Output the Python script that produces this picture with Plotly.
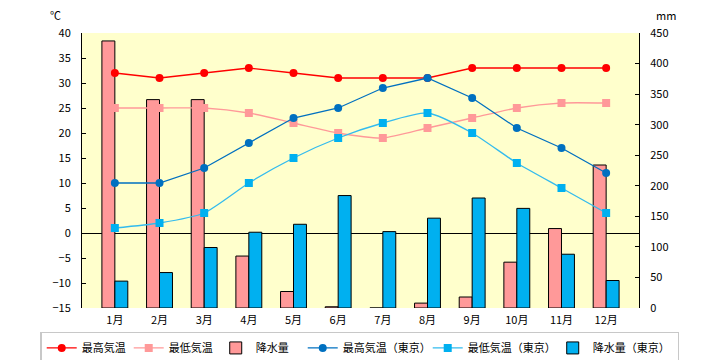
import plotly.graph_objects as go

months = ["1月", "2月", "3月", "4月", "5月", "6月", "7月", "8月", "9月", "10月", "11月", "12月"]
max_temp = [32, 31, 32, 33, 32, 31, 31, 31, 33, 33, 33, 33]
min_temp = [25, 25, 25, 24, 22, 20, 19, 21, 23, 25, 26, 26]
precip = [437, 341, 341, 85, 27, 2, 0, 8, 18, 75, 130, 234]
max_tokyo = [10, 10, 13, 18, 23, 25, 29, 31, 27, 21, 17, 12]
min_tokyo = [1, 2, 4, 10, 15, 19, 22, 24, 20, 14, 9, 4]
precip_tokyo = [44, 58, 99, 124, 137, 184, 125, 147, 180, 163, 88, 45]

temp_ticks = list(range(-15, 41, 5))
mm_ticks = list(range(0, 451, 50))

FONT = "Noto Sans CJK JP"
SHORT_W = 42
LONG_W = 80

fig = go.Figure()
fig.add_trace(go.Scatter(x=months, y=max_temp, name="最高気温", yaxis="y2", legendwidth=SHORT_W,
                         mode="lines+markers", line=dict(color="#FF0000", width=1.3),
                         marker=dict(symbol="circle", size=8, color="#FF0000")))
fig.add_trace(go.Scatter(x=months, y=min_temp, name="最低気温", yaxis="y2", legendwidth=SHORT_W,
                         mode="lines+markers", line=dict(color="#FF9999", width=1.3, shape="spline", smoothing=0.6),
                         marker=dict(symbol="square", size=8, color="#FF9999")))
fig.add_trace(go.Bar(x=months, y=precip, name="降水量", yaxis="y", offsetgroup="a", legendwidth=SHORT_W,
                     marker=dict(color="#FF9999", line=dict(color="#000000", width=1))))
fig.add_trace(go.Scatter(x=months, y=max_tokyo, name="最高気温（東京）", yaxis="y2", legendwidth=LONG_W,
                         mode="lines+markers", line=dict(color="#0070C0", width=1.3),
                         marker=dict(symbol="circle", size=8, color="#0070C0")))
fig.add_trace(go.Scatter(x=months, y=min_tokyo, name="最低気温（東京）", yaxis="y2", legendwidth=LONG_W,
                         mode="lines+markers", line=dict(color="#33BBEE", width=1.3, shape="spline", smoothing=0.6),
                         marker=dict(symbol="square", size=8, color="#00B0F0")))
fig.add_trace(go.Bar(x=months, y=precip_tokyo, name="降水量（東京）", yaxis="y", offsetgroup="b", legendwidth=LONG_W,
                     marker=dict(color="#00B0F0", line=dict(color="#000000", width=1))))

fig.update_layout(
    width=720, height=360,
    margin=dict(l=82, r=81, t=33, b=52, autoexpand=False),
    paper_bgcolor="white",
    plot_bgcolor="#FFFFCC",
    font=dict(family=FONT, size=11, color="#000000"),
    barmode="group", bargap=0.42, bargroupgap=0,
    showlegend=True,
    legend=dict(orientation="h", x=-0.075, xanchor="left",
                y=-0.087, yanchor="top",
                bordercolor="#C8C8C8", borderwidth=1.5, bgcolor="white",
                itemwidth=30, tracegroupgap=0,
                font=dict(family=FONT, size=11), traceorder="normal"),
    xaxis=dict(type="category", showgrid=False, showline=False, ticks="",
               ticklabelstandoff=4, tickfont=dict(size=11), zeroline=False),
    yaxis=dict(side="right", range=[0, 450], tickvals=mm_ticks, showgrid=False,
               showline=True, linecolor="#000000", linewidth=1, ticks="inside",
               ticklen=4, tickcolor="#000000", zeroline=False, mirror=False,
               ticklabelstandoff=8),
    yaxis2=dict(side="left", overlaying="y", range=[-15, 40], tickvals=temp_ticks,
                showgrid=False, showline=True, linecolor="#000000", linewidth=1,
                ticks="inside", ticklen=4, tickcolor="#000000", ticklabelstandoff=8,
                zeroline=True, zerolinecolor="#000000", zerolinewidth=1),
    annotations=[
        dict(text="℃", xref="paper", yref="paper", x=-0.048, y=1.065, showarrow=False,
             xanchor="center", yanchor="middle", font=dict(size=11)),
        dict(text="mm", xref="paper", yref="paper", x=1.048, y=1.065, showarrow=False,
             xanchor="center", yanchor="middle", font=dict(size=11)),
    ],
)

fig.write_html("out.html", config={"displayModeBar": False},
               post_script="document.body.style.margin='0';")
